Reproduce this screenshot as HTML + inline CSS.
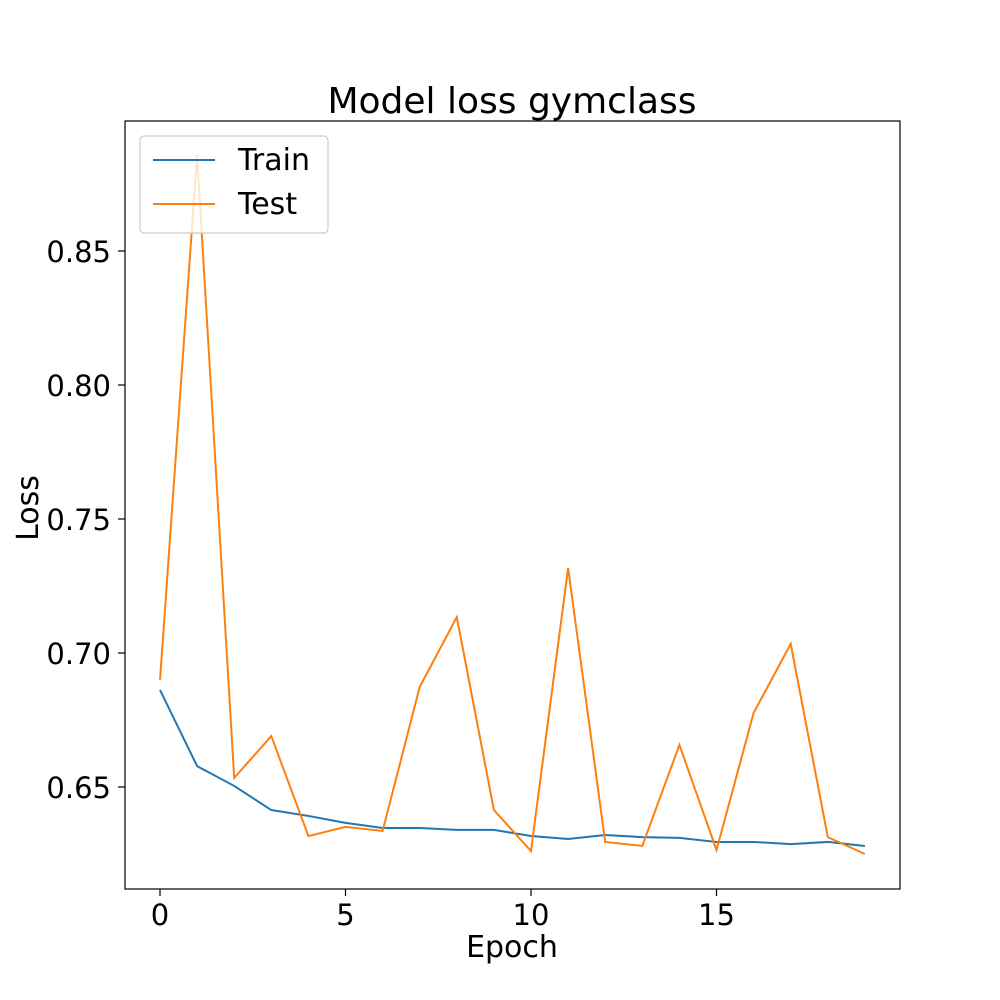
<!DOCTYPE html>
<html><head><meta charset="utf-8"><style>
body{margin:0;background:#fff;}
svg{display:block;font-family:"DejaVu Sans","Liberation Sans",sans-serif;}
</style></head><body>
<svg id="chart" width="1000" height="1000">
<rect x="0" y="0" width="1000" height="1000" fill="#fff"/>
<text x="512" y="113" font-size="36" text-anchor="middle">Model loss gymclass</text>
<g id="axes"></g>
<g id="lines"></g>
<rect x="125" y="121" width="775" height="768" fill="none" stroke="#000" stroke-width="1.2"/>
<text x="512" y="957" font-size="30" text-anchor="middle">Epoch</text>
<text transform="translate(38,508) rotate(-90)" font-size="30" text-anchor="middle">Loss</text>
<g>
<rect x="140" y="136" width="188" height="97" rx="4" fill="#fff" fill-opacity="0.8" stroke="#ccc" stroke-width="1.2"/>
<line x1="153" y1="160" x2="215" y2="160" stroke="#1f77b4" stroke-width="2"/>
<text x="238" y="170" font-size="30">Train</text>
<line x1="153" y1="204" x2="215" y2="204" stroke="#ff7f0e" stroke-width="2"/>
<text x="238" y="214" font-size="30">Test</text>
</g>
</svg>
<script>
const epochs=[0,1,2,3,4,5,6,7,8,9,10,11,12,13,14,15,16,17,18,19];
const trainLoss=[0.6862,0.6578,0.6504,0.6414,0.6392,0.6366,0.6347,0.6347,0.634,0.634,0.6317,0.6306,0.6321,0.6313,0.631,0.6295,0.6295,0.6287,0.6295,0.628];
const testLoss=[0.690,0.8858,0.6534,0.669,0.6317,0.6351,0.6336,0.6873,0.7134,0.6414,0.6261,0.7317,0.6295,0.628,0.6657,0.6265,0.6776,0.7034,0.6313,0.625];
const xTicks=[0,5,10,15];
const yTicks=[0.65,0.70,0.75,0.80,0.85];
const yTickLabels=["0.65","0.70","0.75","0.80","0.85"];
function xs(v){return 160+v*37.1;}
function ys(v){return 787-(v-0.65)*2680;}
const NS="http://www.w3.org/2000/svg";
const axes=document.getElementById('axes'),lines=document.getElementById('lines');
function mk(t,a,p){const e=document.createElementNS(NS,t);for(const k in a)e.setAttribute(k,a[k]);p.appendChild(e);return e;}
xTicks.forEach(t=>{
 const l=mk('line',{x1:xs(t),x2:xs(t),y1:889,y2:896,stroke:'#000','stroke-width':1.2},axes);
 
 
 const tx=mk('text',{x:xs(t),y:925,'font-size':29,'text-anchor':'middle'},axes);tx.textContent=t;
 
 
});
yTicks.forEach((t,i)=>{
 const l=mk('line',{x1:118,x2:125,y1:ys(t),y2:ys(t),stroke:'#000','stroke-width':1.2},axes);
 
 
 const tx=mk('text',{x:111,y:ys(t)+11,'font-size':29,'text-anchor':'end'},axes);tx.textContent=yTickLabels[i];
 
 
});
function series(vals,color,name){
 const p=mk('polyline',{points:vals.map((v,i)=>xs(epochs[i])+','+ys(v)).join(' '),fill:'none',stroke:color,'stroke-width':2},lines);
 
 
}
series(trainLoss,'#1f77b4','train-line');
series(testLoss,'#ff7f0e','test-line');
</script>
</body></html>
